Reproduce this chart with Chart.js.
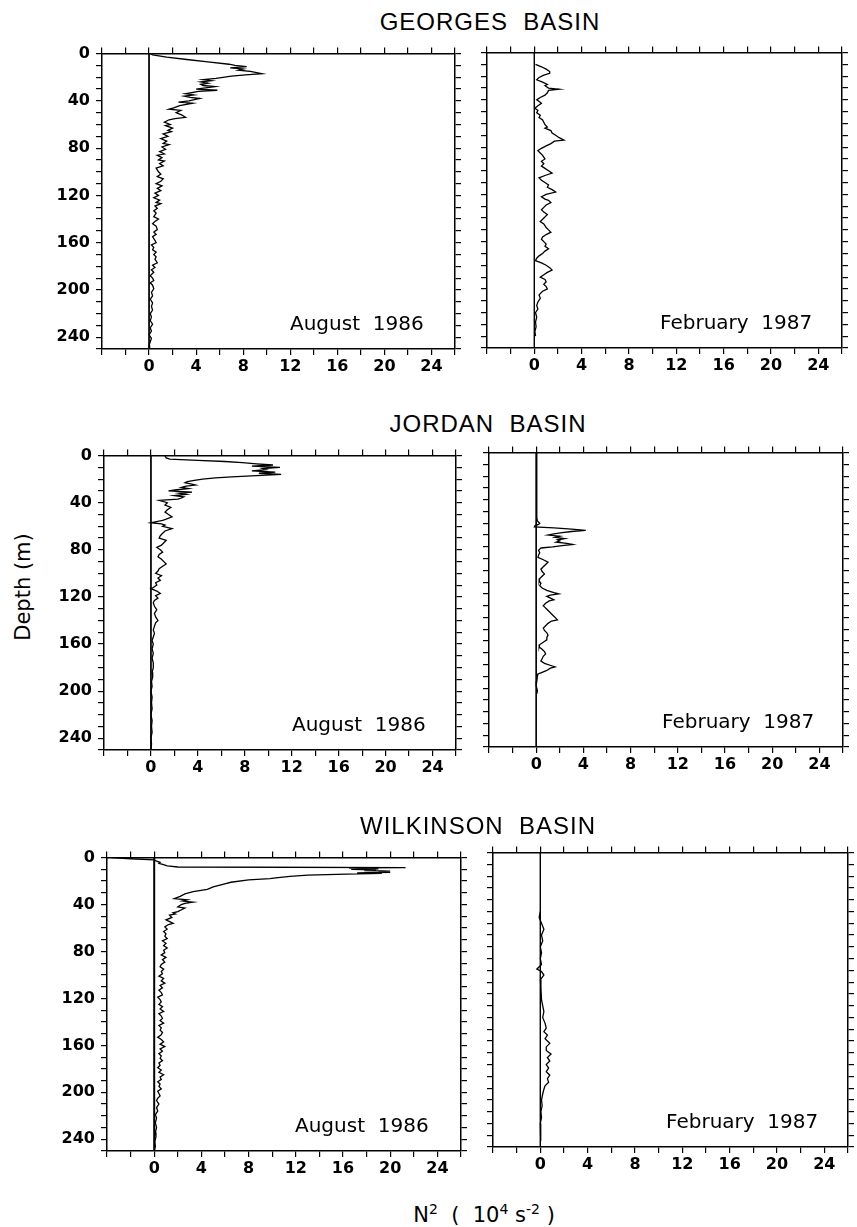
<!DOCTYPE html>
<html>
<head>
<meta charset="utf-8">
<script src="https://cdn.jsdelivr.net/npm/chart.js@4.4.1/dist/chart.umd.min.js"></script>
<style>
  body { margin: 0; background: #fff; width: 857px; height: 1227px; position: relative; overflow: hidden; font-family: "DejaVu Sans", sans-serif; color: #000; }
  canvas { position: absolute; }
  .lbl { position: absolute; white-space: pre; line-height: 1; }
  .title { font-family: "Liberation Sans", sans-serif; font-size: 24px; letter-spacing: 1px; transform: translateX(-50%); }
  .note { font-size: 20px; }
</style>
</head>
<body>
<script>
// N^2 profiles: [depth (m), N^2 (10^-4 s^-2)]
const georgesAug = [
  [0,0.1],[1,0.3],[3,1.5],[5,3.2],[7,5.0],[9,6.8],[10,7.3],[11,8.3],[12,6.9],[13,8.0],[14,7.6],[15,8.6],[17,9.6],[18,8.2],[19,7.0],
  [21,5.7],[22,4.6],[23,5.3],[24,4.4],[25,5.0],[26,4.4],[27,4.6],[28,5.6],[30,4.0],[31,5.8],[32,4.2],[34,3.1],[35,3.8],[36,3.0],
  [37,3.5],[38,4.3],[40,3.4],[41,2.5],[42,3.7],[44,2.6],[46,2.1],[47,1.7],[48,2.7],[50,2.3],[52,2.8],[54,3.1],[55,2.2],[56,1.7],
  [58,1.3],[60,1.8],[61,1.4],[63,2.0],[65,1.6],[66,1.9],[68,1.2],[70,1.6],[72,1.0],[74,1.5],[76,1.2],[77,1.7],[79,1.1],[81,1.4],
  [83,0.9],[85,1.3],[86,0.7],[88,1.1],[90,0.8],[91,1.3],[93,0.9],[95,1.2],[97,0.6],[100,0.8],[102,1.0],[104,0.7],[106,1.2],
  [108,1.0],[110,0.6],[112,1.1],[114,0.7],[116,1.0],[118,0.5],[120,0.8],[122,0.4],[124,0.9],[126,0.6],[127,1.0],[129,0.5],
  [131,0.7],[133,0.4],[135,0.6],[138,0.4],[140,0.8],[142,0.5],[144,0.3],[146,0.6],[149,0.7],[151,0.4],[153,0.6],[155,0.3],
  [158,0.5],[160,0.6],[162,0.2],[164,0.4],[166,0.3],[168,0.6],[170,0.4],[172,0.6],[174,0.5],[177,0.7],[179,0.3],[181,0.5],
  [183,0.2],[185,0.4],[188,0.1],[190,0.3],[192,0.4],[194,0.1],[196,0.3],[199,0.4],[202,0.2],[205,0.3],[208,0.1],[211,0.3],
  [214,0.2],[217,0.3],[220,0.1],[223,0.2],[226,0.1],[229,0.3],[232,0.1],[235,0.2],[238,0.0],[241,0.2],[244,0.1],[247,0.0],[250,0.05]
];
const georgesFeb = [
  [10,0.1],[12,0.6],[14,1.0],[16,1.3],[17.5,1.3],[19,0.8],[21,0.4],[23,0.2],[25,0.7],[27,1.1],[28,0.9],[30,1.2],[31,2.1],[32,1.2],
  [34,1.1],[36,0.9],[38,0.5],[40,0.2],[42,0.5],[43,0.6],[45,0.3],[47,0.05],[49,0.3],[51,0.2],[53,0.5],[55,0.4],[57,0.7],[59,0.8],
  [61,0.9],[63,1.1],[64,0.9],[66,1.4],[68,1.5],[70,1.8],[72,2.1],[74,2.5],[75,1.7],[77,1.4],[79,1.0],[81,0.6],[83,0.3],[85,0.5],
  [87,0.7],[90,0.9],[92,0.6],[94,0.8],[96,0.6],[98,0.9],[100,1.2],[102,1.5],[104,0.9],[106,0.4],[108,0.6],[110,0.9],[112,1.2],
  [114,1.1],[116,1.5],[118,1.8],[120,1.0],[122,0.6],[124,0.9],[125,1.2],[127,1.4],[129,1.0],[131,0.8],[133,0.6],[135,0.8],
  [137,1.1],[139,0.9],[141,0.7],[143,0.5],[145,0.8],[148,1.0],[150,1.2],[152,1.4],[154,1.0],[156,0.7],[158,0.6],[160,0.8],
  [162,1.0],[164,0.9],[166,1.2],[168,0.9],[170,0.7],[172,0.4],[174,0.2],[176,0.1],[178,0.6],[180,1.0],[182,1.3],[184,1.5],
  [186,1.1],[188,0.8],[190,0.5],[192,0.9],[194,1.0],[196,0.8],[198,1.0],[200,1.1],[202,0.7],[205,0.4],[208,0.5],[211,0.3],
  [214,0.2],[217,0.3],[220,0.1],[224,0.2],[228,0.1],[232,0.15],[236,0.05],[240,0.1]
];
const jordanAug = [
  [0,1.2],[2,1.3],[3,1.6],[4,4.0],[5,6.3],[6,7.8],[7,9.0],[8,10.4],[9,8.6],[10,11.0],[11,9.5],[12,9.8],[13,8.6],[14,10.6],[15,9.2],
  [16,11.1],[17,9.0],[18,6.9],[19,5.5],[20,4.4],[21,3.7],[22,3.1],[23,2.9],[24,3.4],[25,3.8],[26,3.0],[27,2.6],[28,3.2],[29,2.2],
  [30,1.5],[31,3.5],[32,2.4],[33,3.0],[34,2.0],[35,2.8],[36,2.6],[37,2.3],[38,0.7],[40,1.4],[42,1.2],[44,1.7],[46,1.4],[48,1.2],
  [50,1.5],[52,1.8],[54,1.3],[55,1.0],[57,0.0],[58,0.9],[59,1.2],[60,1.0],[62,1.8],[64,1.2],[66,1.0],[68,0.8],[70,0.7],[72,1.3],
  [74,1.1],[76,0.9],[78,0.5],[80,0.8],[82,1.0],[84,0.7],[86,0.6],[88,0.9],[90,1.1],[92,1.3],[94,1.0],[96,0.7],[98,0.6],[100,0.4],
  [102,0.9],[104,0.6],[106,0.8],[108,0.4],[110,0.5],[112,0.2],[113,0.0],[115,0.5],[117,0.8],[119,0.4],[121,0.6],[123,0.3],
  [125,0.2],[128,0.3],[131,0.5],[134,0.3],[137,0.4],[140,0.6],[142,0.4],[145,0.3],[148,0.2],[151,0.3],[154,0.2],[157,0.1],
  [160,0.2],[164,0.1],[168,0.2],[172,0.1],[176,0.2],[180,0.2],[184,0.1],[188,0.15],[192,0.05],[196,0.1],[200,0.0],[205,0.1],
  [210,0.05],[215,0.1],[220,0.0],[225,0.1],[230,0.05],[235,0.1],[240,0.0],[245,0.05],[250,0.0]
];
const jordanFeb = [
  [0,0.05],[20,0.05],[40,0.05],[55,0.05],[58,0.1],[60,0.3],[61,0.2],[62,-0.1],[63,-0.15],[64,1.5],[65,3.0],[66,4.2],[67,3.0],
  [68,2.2],[69,1.5],[70,1.0],[71,2.0],[72,1.6],[73,2.4],[74,1.8],[75,2.0],[76,1.7],[77,2.6],[78,3.1],[79,2.2],[80,1.4],[81,0.4],
  [83,0.2],[85,0.3],[87,0.2],[89,0.15],[91,0.6],[93,1.0],[95,0.8],[97,0.6],[99,0.4],[101,0.5],[103,0.7],[105,0.5],[107,0.3],
  [109,0.25],[111,0.4],[113,0.3],[115,0.5],[117,0.9],[119,1.5],[120,1.9],[121,1.2],[122,0.9],[124,1.3],[125,1.5],[126,1.1],
  [128,0.8],[130,0.6],[131,0.7],[133,0.9],[135,1.1],[137,1.3],[139,1.5],[141,1.7],[142,1.8],[143,1.3],[145,1.0],[147,0.8],
  [149,0.6],[151,0.7],[153,0.9],[155,1.0],[157,0.9],[159,0.9],[161,0.6],[163,0.3],[165,0.25],[167,0.5],[169,0.7],[171,0.8],
  [173,0.6],[175,0.5],[177,0.4],[179,0.7],[181,1.3],[182,1.6],[183,1.2],[185,0.9],[187,0.4],[188,0.15],[190,0.1],[194,0.05],
  [198,0.0],[202,0.1],[205,0.05]
];
const wilkinsonAug = [
  [0,-3.6],[1,-2.0],[2,0.0],[3,0.2],[4,0.5],[5,0.4],[6,0.8],[7,1.1],[8,2.0],[8.5,21.3],[9,16.5],[9.5,19.0],[10,16.7],[10.5,18.8],
  [11,17.8],[11.5,20.0],[12,19.0],[12.5,20.0],[13,17.2],[13.5,19.3],[14,16.3],[15,13.0],[16,11.5],[17,10.5],[18,9.8],[19,8.0],
  [21,6.5],[22.5,5.9],[25,5.0],[27,4.5],[29,3.3],[31,2.6],[33,2.2],[35,1.7],[36,2.8],[37,2.4],[38,3.3],[39,2.6],[40,2.3],[42,2.0],
  [43,2.6],[44,2.4],[46,2.0],[47,1.6],[48,1.8],[49,1.3],[51,1.5],[53,1.0],[55,1.4],[56,1.6],[57,1.2],[59,0.9],[61,1.1],[63,0.8],
  [65,1.0],[67,0.9],[69,1.1],[71,0.7],[73,1.0],[75,0.8],[77,1.1],[79,0.8],[81,0.9],[83,0.6],[85,1.0],[87,0.7],[89,0.9],[91,0.6],
  [93,0.5],[95,0.8],[97,0.6],[99,0.7],[101,0.4],[103,0.8],[105,0.6],[107,0.9],[109,0.5],[111,0.7],[113,0.4],[115,0.6],[117,0.7],
  [119,0.3],[121,0.5],[123,0.6],[125,0.4],[127,0.7],[129,0.5],[131,0.8],[133,0.4],[135,0.6],[137,0.7],[139,0.5],[141,0.8],
  [143,0.4],[145,0.6],[147,0.5],[149,0.7],[151,0.6],[153,0.3],[155,0.6],[157,0.8],[159,0.5],[161,0.9],[163,0.5],[165,0.7],
  [167,0.4],[169,0.6],[171,0.5],[173,0.7],[175,0.4],[177,0.5],[179,0.3],[181,0.6],[183,0.4],[185,0.8],[187,0.5],[189,0.6],
  [191,0.3],[193,0.5],[195,0.4],[197,0.6],[199,0.3],[201,0.4],[203,0.5],[205,0.3],[207,0.2],[210,0.4],[213,0.2],[216,0.3],
  [219,0.1],[222,0.2],[226,0.1],[230,0.2],[234,0.1],[238,0.15],[242,0.05],[246,0.1],[250,0.0]
];
const wilkinsonFeb = [
  [50,0.0],[55,-0.1],[60,0.1],[65,0.3],[70,0.1],[75,0.2],[80,0.0],[85,0.1],[90,0.0],[95,0.1],[99,-0.3],[101,0.1],[104,0.3],
  [108,0.0],[115,0.05],[125,0.1],[130,0.2],[135,0.3],[140,0.2],[145,0.4],[149,0.5],[152,0.3],[155,0.6],[158,0.4],[162,0.8],
  [165,0.5],[168,0.5],[171,0.9],[174,0.6],[177,0.8],[180,0.5],[183,0.7],[186,0.5],[189,0.8],[192,0.6],[195,0.7],[198,0.4],
  [201,0.3],[205,0.2],[210,0.1],[215,0.15],[220,0.05],[225,0.1],[230,0.0],[235,0.05],[240,0.0],[245,0.05]
];

// tick labels
const depthLabels = [0, 40, 80, 120, 160, 200, 240];
const n2Labels = [0, 4, 8, 12, 16, 20, 24];
const basinNames = ['GEORGES  BASIN', 'JORDAN  BASIN', 'WILKINSON  BASIN'];
const seasonNames = ['August  1986', 'February  1987'];

// plot frames [left, top, right, bottom] in page pixels
const panels = [
  { data: georgesAug,   box: [102, 54, 455, 355],   labels: true,  season: 0 },
  { data: georgesFeb,   box: [487, 53, 842, 354],   labels: false, season: 1 },
  { data: jordanAug,    box: [104, 456, 456, 756],  labels: true,  season: 0 },
  { data: jordanFeb,    box: [489, 453, 843, 753],  labels: false, season: 1 },
  { data: wilkinsonAug, box: [107, 858, 461, 1157], labels: true,  season: 0, zeroWidth: 2 },
  { data: wilkinsonFeb, box: [493, 853, 848, 1153], labels: false, season: 1 }
];

const tickFont = { family: 'DejaVu Sans', size: 16, weight: 'bold' };
const PAD_L = 62, PAD_R = 10, PAD_T = 10, PAD_B = 32;

function axisGrid() {
  return { drawOnChartArea: false, drawTicks: true, tickLength: 6, color: '#000', lineWidth: 1.2 };
}

function xAxis(pos, showLabels) {
  return {
    type: 'linear', position: pos, min: -4, max: 26,
    grid: axisGrid(),
    border: { display: true, color: '#000', width: 1.5 },
    ticks: {
      stepSize: 2, autoSkip: false, maxRotation: 0, padding: 2, color: '#000', font: tickFont,
      callback: v => (showLabels && n2Labels.includes(v)) ? String(v) : ''
    },
    afterFit: s => { s.height = pos === 'bottom' ? PAD_B : PAD_T; }
  };
}

function yAxis(pos, showLabels) {
  return {
    type: 'linear', position: pos, min: 0, max: 250, reverse: true,
    grid: axisGrid(),
    border: { display: true, color: '#000', width: 1.5 },
    ticks: {
      stepSize: 10, autoSkip: false, padding: 6, color: '#000', font: tickFont,
      callback: v => (showLabels && depthLabels.includes(v)) ? String(v) : ''
    },
    afterFit: s => { s.width = pos === 'left' ? PAD_L : PAD_R; }
  };
}

function addText(cls, text, x, y, extra) {
  const d = document.createElement('div');
  d.className = 'lbl ' + cls;
  d.textContent = text;
  d.style.left = x + 'px';
  d.style.top = y + 'px';
  if (extra) Object.assign(d.style, extra);
  document.body.appendChild(d);
  return d;
}

panels.forEach(p => {
  const [L, T, R, B] = p.box;
  const cv = document.createElement('canvas');
  cv.width = R - L + PAD_L + PAD_R;
  cv.height = B - T + PAD_T + PAD_B;
  cv.style.left = (L - PAD_L) + 'px';
  cv.style.top = (T - PAD_T) + 'px';
  document.body.appendChild(cv);

  const chart = new Chart(cv.getContext('2d'), {
    type: 'scatter',
    data: {
      datasets: [{
        data: p.data.map(([d, v]) => ({ x: v, y: d })),
        showLine: true, borderColor: '#000', borderWidth: 1.3, pointRadius: 0,
        xAxisID: 'x', yAxisID: 'y'
      }, {
        // zero line
        data: [{ x: 0, y: 0 }, { x: 0, y: 250 }],
        showLine: true, borderColor: '#000', borderWidth: p.zeroWidth || 1, pointRadius: 0,
        xAxisID: 'x', yAxisID: 'y'
      }]
    },
    options: {
      responsive: false,
      animation: false,
      devicePixelRatio: 1,
      layout: { padding: 0 },
      plugins: { legend: { display: false }, tooltip: { enabled: false } },
      scales: {
        x: xAxis('bottom', true),
        xTop: xAxis('top', false),
        y: yAxis('left', p.labels),
        yRight: yAxis('right', false)
      }
    }
  });

  // shift the canvas so the plot frame sits on its box
  const a = chart.chartArea;
  cv.style.left = (L - a.left) + 'px';
  cv.style.top = (T - a.top) + 'px';

  const noteX = p.season === 0 ? L + 188 : L + 173;
  addText('note', seasonNames[p.season], noteX, B - 42);
});

addText('title', basinNames[0], 490, 10);
addText('title', basinNames[1], 488, 412);
addText('title', basinNames[2], 478, 814);

addText('', 'Depth (m)', 23, 587, {
  fontSize: '21px', transform: 'translate(-50%, -50%) rotate(-90deg)'
});

const xt = addText('', '', 484, 1202, { fontSize: '21px', transform: 'translateX(-50%)' });
xt.innerHTML = 'N<sup style="font-size:14px">2</sup>  (  10<sup style="font-size:14px">4</sup> s<sup style="font-size:14px">-2</sup> )';
</script>
</body>
</html>
